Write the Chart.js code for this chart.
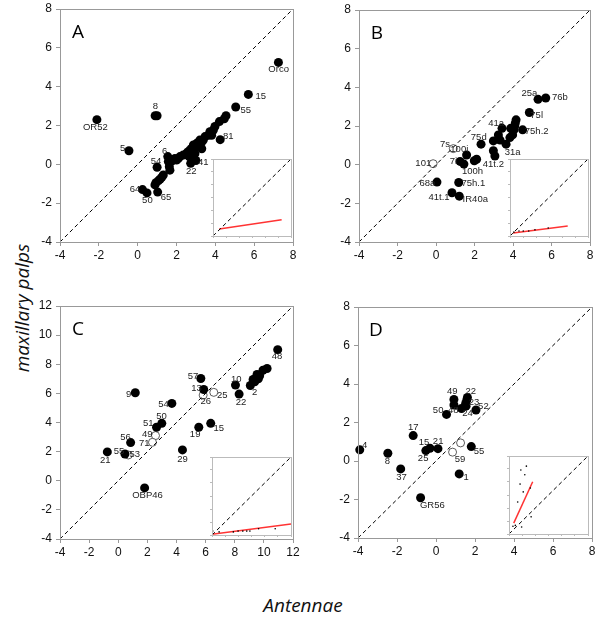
<!DOCTYPE html>
<html lang="en">
<head>
<meta charset="UTF-8">
<title>Antennae vs maxillary palps</title>
<script src="https://cdn.jsdelivr.net/npm/chart.js"></script>
<style>
  body { margin: 0; background: #fff; }
  #wrap { position: relative; width: 600px; height: 625px; overflow: hidden; }
  canvas { position: absolute; }
  .title { position: absolute; font-family: 'Open Sans', sans-serif; font-style: italic; font-size: 19px; color: #111; white-space: nowrap; }
  #ytitle { left: 22px; top: 308px; transform: translate(-50%, -50%) rotate(-90deg); }
  #xtitle { left: 303px; top: 605px; transform: translate(-50%, -50%); }
</style>
</head>
<body>
<div id="wrap">
  <div class="title" id="ytitle">maxillary palps</div>
  <div class="title" id="xtitle">Antennae</div>
</div>
<script>
// ---- data: [antennae, maxillary palps] ----
const aFilled = [[7.25,5.25],[5.7,3.6],[5.05,2.95],[-2.1,2.3],[0.9,2.5],[1.0,2.5],[-0.45,0.7],[4.25,1.27],
  [4.55,2.5],[4.46,2.35],[4.21,2.2],[3.98,1.95],[3.9,1.77],[3.72,1.68],[3.64,1.5],[3.81,1.5],[3.47,1.43],
  [3.38,1.25],[3.3,1.15],[3.2,1.25],[3.04,1.08],[3.12,0.9],[2.87,1.0],[2.78,0.82],[2.7,0.74],[2.6,0.65],
  [2.87,0.65],[2.52,0.57],[2.35,0.48],[2.18,0.4],[2.09,0.3],[2.0,0.22],[1.92,0.3],[3.0,0.2],[2.73,0.05],
  [1.55,0.4],[1.58,0.14],[1.63,-0.12],[1.66,-0.3],[1.0,-0.15],[1.75,0.17],[1.32,-0.55],[1.24,-0.67],
  [1.15,-0.77],[1.06,-0.85],[0.94,-0.95],[0.89,-1.06],[0.25,-1.3],[0.48,-1.47],[1.03,-1.43],
  [2.85,0.9],[2.95,0.55],[2.65,0.4],[3.3,0.8]];
const aOpen = [];
const aLabels = [['Orco',7.26,4.89],['15',6.34,3.51],['55',5.57,2.76],['OR52',-2.18,1.88],['8',0.91,2.96],
  ['5',-0.77,0.81],['81',4.67,1.45],['6',1.39,0.68],['54',0.94,0.13],['41',3.38,0.09],['22',2.76,-0.34],
  ['64',-0.14,-1.28],['50',0.5,-1.88],['65',1.46,-1.68]];

const bFilled = [[5.7,3.45],[5.3,3.38],[4.85,2.7],[4.5,1.8],[4.16,2.32],[4.12,2.15],[4.09,2.0],[4.05,1.8],
  [3.88,1.88],[3.98,1.54],[3.84,1.4],[3.43,1.88],[3.24,1.54],[3.33,1.27],[2.98,1.23],[3.64,1.06],
  [2.98,0.72],[3.06,0.45],[2.34,1.06],[1.59,0.5],[1.99,0.2],[2.11,0.28],[1.25,0.17],[1.45,0.03],
  [0.05,-0.9],[1.18,-0.92],[0.83,-1.45],[1.21,-1.63]];
const bOpen = [[0.9,0.83],[-0.15,0.05]];
const bLabels = [['76b',6.44,3.49],['25a',4.85,3.7],['75l',5.23,2.54],['75h.2',5.23,1.72],['41a',3.12,2.15],
  ['75d',2.22,1.42],['31a',3.98,0.63],['41t.2',2.98,-0.01],['100i',1.21,0.8],['7s',0.47,1.06],['7i',0.9,0.17],
  ['100h',1.9,-0.35],['101',-0.66,0.05],['68a',-0.45,-0.95],['75h.1',1.94,-0.95],['41t.1',0.16,-1.68],
  ['IR40a',2.04,-1.81]];

const cFilled = [[10.95,9.0],[10.22,7.71],[9.94,7.59],[9.71,7.21],[9.53,7.3],[9.44,7.02],[9.37,6.8],
  [9.26,6.96],[9.62,7.0],[9.07,6.54],[8.05,6.57],[8.3,5.95],[5.67,7.02],[5.87,6.27],[1.17,6.04],[3.68,5.31],
  [2.99,3.94],[2.63,3.67],[5.53,3.67],[6.35,3.94],[4.41,2.12],[0.85,2.62],[-0.75,1.98],[0.46,1.84],[1.81,-0.49]];
const cOpen = [[5.83,5.88],[6.56,6.07],[2.56,3.1],[2.35,2.64],[0.69,1.77]];
const cLabels = [['48',10.9,8.55],['10',8.11,6.98],['2',9.37,6.09],['22',8.43,5.4],['57',5.14,7.14],
  ['13',5.37,6.32],['26',6.01,5.43],['25',7.15,5.86],['9',0.71,5.93],['54',3.11,5.22],['50',2.97,4.4],
  ['51',2.06,3.94],['49',1.99,3.19],['71',1.78,2.57],['19',5.28,3.21],['15',6.9,3.6],['29',4.41,1.48],
  ['56',0.5,2.96],['21',-0.89,1.43],['55',0.05,2.03],['53',1.14,1.8],['OBP46',2.01,-1.03]];

const dFilled = [[-3.91,0.58],[-2.47,0.4],[-1.81,-0.41],[-1.17,1.32],[-0.52,0.54],[-0.31,0.66],[0.1,0.64],
  [-0.79,-1.91],[1.19,-0.67],[1.81,0.75],[0.54,2.42],[0.92,3.2],[0.92,2.91],[1.31,2.73],[1.54,2.85],
  [1.58,3.17],[1.61,3.3],[1.52,2.99],[2.05,2.65]];
const dOpen = [[1.26,0.94],[0.85,0.46]];
const dLabels = [['4',-3.66,0.8],['8',-2.49,-0.03],['37',-1.77,-0.86],['17',-1.17,1.73],['15',-0.61,0.97],
  ['25',-0.66,0.13],['21',0.11,1.01],['GR56',-0.19,-2.32],['1',1.54,-0.84],['55',2.21,0.52],['59',1.23,0.11],
  ['50',0.11,2.65],['48',0.89,2.61],['49',0.83,3.6],['22',1.78,3.63],['23',1.95,3.06],['52',2.43,2.85],
  ['24',1.62,2.48]];

const diagAB = [[-4,-4],[8,8]];
const diagC = [[-4,-4],[12,12]];

// insets, 0..10 units
const insetDiag = [[0,0],[10,10]];
const insetAFit = [[0.8,0.9],[8.8,2.1]];
const insetADots = [];
const insetBFit = [[0.4,0.4],[7.4,1.3]];
const insetBDots = [[0.5,0.5],[1.15,0.65],[1.7,0.65],[2.4,0.65],[3.2,0.8],[4.9,1.04]];
const insetCFit = [[0,0.1],[10,1.4]];
const insetCDots = [[0.1,0.5],[0.9,0.4],[2.7,0.4],[3.3,0.5],[3.9,0.5],[4.4,0.5],[4.8,0.5],[5.9,0.8],[8.0,0.8]];
const insetDFit = [[0.6,1.4],[3.0,6.7]];
const insetDDots = [[2.2,8.7],[1.5,8.2],[2.0,7.6],[1.4,6.4],[1.8,5.4],[1.1,4.1],[2.7,5.9],[0.8,1.1],
  [1.6,0.9],[2.8,2.2],[0.5,1.0]];

const wrap = document.getElementById('wrap');
const pts = arr => arr.map(p => ({x: p[0], y: p[1]}));

const framePlugin = {
  id: 'frame',
  beforeDraw(chart, args, o) {
    if (!o.fill) return;
    const a = chart.chartArea, ctx = chart.ctx;
    ctx.save();
    ctx.fillStyle = '#fff';
    ctx.fillRect(a.left, a.top, a.right - a.left, a.bottom - a.top);
    ctx.restore();
  },
  afterDatasetsDraw(chart, args, o) {
    const ctx = chart.ctx, a = chart.chartArea, xs = chart.scales.x, ys = chart.scales.y;
    ctx.save();
    ctx.strokeStyle = o.color;
    ctx.lineWidth = 1;
    ctx.strokeRect(Math.round(a.left) + 0.5, Math.round(a.top) + 0.5,
      Math.round(a.right - a.left), Math.round(a.bottom - a.top));
    if (o.labels) {
      ctx.font = '9.5px "Liberation Sans", Arial, sans-serif';
      ctx.fillStyle = '#222';
      ctx.textAlign = 'center';
      ctx.textBaseline = 'middle';
      o.labels.forEach(l => ctx.fillText(l[0], xs.getPixelForValue(l[1]), ys.getPixelForValue(l[2])));
    }
    if (o.letter) {
      ctx.font = '19px "Open Sans", sans-serif';
      ctx.fillStyle = '#000';
      ctx.textAlign = 'center';
      ctx.textBaseline = 'alphabetic';
      ctx.fillText(o.letter, a.left + 18, a.top + 29);
    }
    ctx.restore();
  }
};

function makeChart(box, min, max, datasets, extra) {
  const inset = !!extra.inset;
  const m = inset ? {l: 6, t: 6, r: 6, b: 6, yw: 3, xh: 3} : {l: 50, t: 20, r: 15, b: 40, yw: 40, xh: 30};
  const c = document.createElement('canvas');
  c.width = box[2] - box[0] + m.l + m.r;
  c.height = box[3] - box[1] + m.t + m.b;
  c.style.left = (box[0] - m.l) + 'px';
  c.style.top = (box[1] - m.t) + 'px';
  wrap.appendChild(c);

  const tickFont = {family: '"Liberation Sans", Arial, sans-serif', size: 12};
  const axis = (which) => ({
    type: 'linear', min: min, max: max,
    afterFit: s => {
      if (which === 'x') { s.height = m.xh; s.paddingLeft = 0; s.paddingRight = 0; }
      else { s.width = m.yw; s.paddingTop = 0; s.paddingBottom = 0; }
    },
    ticks: {display: !inset, stepSize: inset ? 10 / 6 : 2, font: tickFont, color: '#111',
      padding: which === 'x' ? 2 : 4, maxRotation: 0},
    grid: {display: true, drawOnChartArea: false, drawTicks: true, tickLength: inset ? 2 : 4,
      color: inset ? '#bbb' : '#999'},
    border: {display: false}
  });

  return new Chart(c, {
    type: 'scatter',
    data: {datasets: datasets},
    options: {
      responsive: false, animation: false, events: [],
      layout: {padding: {left: m.l - m.yw, top: m.t, right: m.r, bottom: m.b - m.xh}},
      scales: {x: axis('x'), y: axis('y')},
      plugins: {
        legend: {display: false}, tooltip: {enabled: false},
        frame: {color: inset ? '#bbb' : '#999', fill: inset, labels: extra.labels, letter: extra.letter}
      }
    },
    plugins: [framePlugin]
  });
}

function dashed(d) {
  return {data: pts(d), showLine: true, pointRadius: 0, borderColor: '#000', borderWidth: 1, borderDash: [4, 3]};
}
function filled(d) {
  return {data: pts(d), pointRadius: 4.5, backgroundColor: '#000', borderWidth: 0, clip: false};
}
function open(d) {
  return {data: pts(d), pointRadius: 4, backgroundColor: '#fff', borderColor: '#333', borderWidth: 0.8, clip: false};
}
function fit(d) {
  return {data: pts(d), showLine: true, pointRadius: 0, borderColor: '#f33', borderWidth: 1.5};
}
function dots(d) {
  return {data: pts(d), pointRadius: 0.8, backgroundColor: '#000', borderWidth: 0};
}

makeChart([60, 9, 293, 242], -4, 8, [dashed(diagAB), filled(aFilled), open(aOpen)], {labels: aLabels, letter: 'A'});
makeChart([359, 10, 590, 242], -4, 8, [dashed(diagAB), filled(bFilled), open(bOpen)], {labels: bLabels, letter: 'B'});
makeChart([60, 306, 293, 539], -4, 12, [dashed(diagC), filled(cFilled), open(cOpen)], {labels: cLabels, letter: 'C'});
makeChart([358, 307, 592, 538], -4, 8, [dashed(diagAB), filled(dFilled), open(dOpen)], {labels: dLabels, letter: 'D'});

makeChart([213, 159, 291, 236], 0, 10, [dashed(insetDiag), dots(insetADots), fit(insetAFit)], {inset: true});
makeChart([510, 159, 588, 236], 0, 10, [dashed(insetDiag), dots(insetBDots), fit(insetBFit)], {inset: true});
makeChart([212, 457, 291, 535], 0, 10, [dashed(insetDiag), dots(insetCDots), fit(insetCFit)], {inset: true});
makeChart([509, 456, 588, 534], 0, 10, [dashed(insetDiag), dots(insetDDots), fit(insetDFit)], {inset: true});
</script>
</body>
</html>
